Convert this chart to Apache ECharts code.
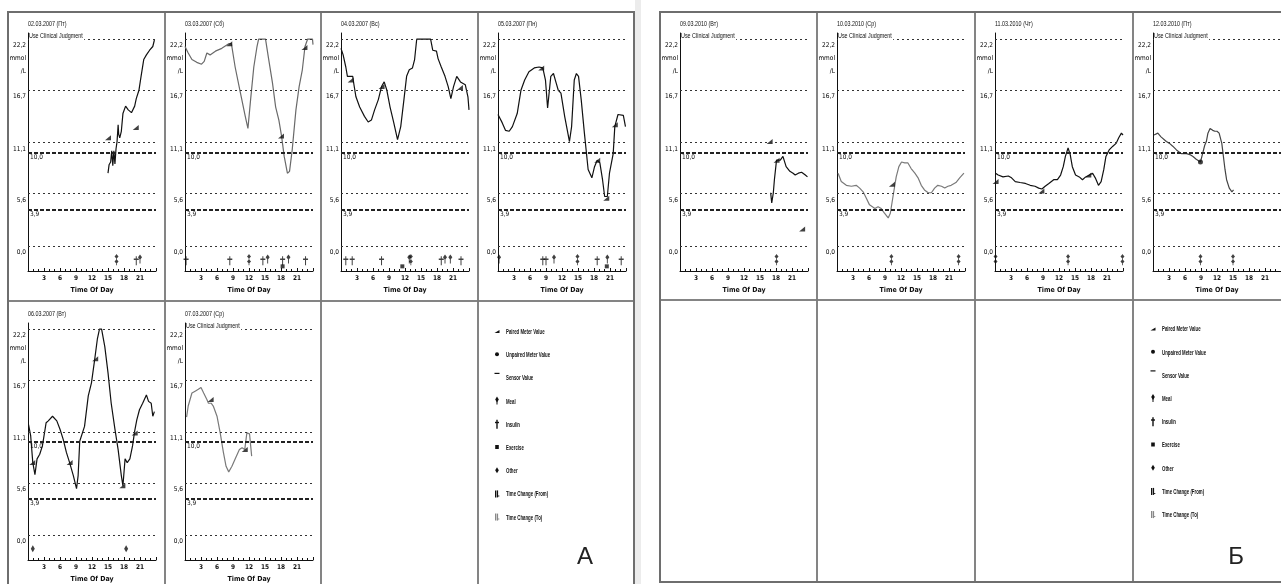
<!DOCTYPE html>
<html><head><meta charset="utf-8">
<script src="https://cdn.jsdelivr.net/npm/echarts@6/dist/echarts.min.js"></script>
<style>html,body{margin:0;padding:0;background:#fff}#c{width:1281px;height:584px}</style>
</head><body><div id="c"></div>
<script>
// ---------------- DATA ----------------
const yLabelValues = [0, 5.6, 11.1, 16.7, 22.2];
const thinRefLines = [22.2, 16.7, 11.1, 5.6, 0];
const thickRefLines = [10.0, 3.9];
const xAxisName = 'Time Of Day';
const clinicalNote = 'Use Clinical Judgment';
const legendNames = ['Paired Meter Value','Unpaired Meter Value','Sensor Value','Meal','Insulin','Exercise','Other','Time Change (From)','Time Change (To)'];
const panelLetters = ['А', 'Б'];

const dayTitles = ['02.03.2007 (Пт)','03.03.2007 (Сб)','04.03.2007 (Вс)','05.03.2007 (Пн)','06.03.2007 (Вт)','07.03.2007 (Ср)',
                   '09.03.2010 (Вт)','10.03.2010 (Ср)','11.03.2010 (Чт)','12.03.2010 (Пт)'];
const dayClinical = [true,false,false,false,false,true,true,true,false,true];

const sensor0203 = [[15.0,7.8],[15.2,8.7],[15.5,9.0],[15.7,10.2],[15.9,8.6],[16.1,10.2],[16.3,8.8],[16.5,10.4],[16.7,11.2],[16.9,13.0],[17.0,12.0],[17.2,11.6],[17.5,12.3],[17.8,14.2],[18.3,15.0],[18.8,14.6],[19.4,14.3],[20.0,15.0],[20.3,15.8],[20.8,16.7],[21.2,18.2],[21.7,20.0],[22.2,20.5],[22.8,21.0],[23.4,21.4],[23.7,22.1]];
const meter0203 = [[15.0,11.6],[20.2,12.7]];
const events0203 = [[16.6,'T'],[20.3,'I'],[21.0,'M']];

const sensor0303 = [[0.0,21.4],[0.6,20.7],[1.3,20.0],[2.2,19.7],[3.1,19.5],[3.6,19.8],[4.1,20.7],[4.7,20.5],[5.7,20.9],[6.9,21.2],[8.2,21.7],[8.7,21.7],[9.4,19.2],[10.4,16.4],[11.3,13.9],[11.8,12.6],[12.3,15.7],[12.9,19.2],[13.5,21.4],[13.8,22.2],[15.1,22.2],[15.7,20.0],[16.4,17.5],[17.0,14.9],[17.3,15.1],[17.6,13.5],[18.1,11.8],[18.6,9.6],[19.2,7.8],[19.6,8.0],[20.1,10.3],[20.8,14.6],[21.4,17.1],[22.0,18.9],[22.5,21.4],[23.0,22.2],[23.9,22.2],[24.0,21.6]];
const meter0303 = [[8.3,21.7],[18.0,11.8],[22.4,21.3]];
const events0303 = [[0.2,'I'],[8.4,'I'],[12.0,'T'],[14.6,'I'],[15.5,'M'],[18.3,'I'],[18.3,'E'],[19.4,'M'],[22.6,'I']];

const sensor0403 = [[0,21.2],[0.4,20.5],[0.9,19.2],[1.2,18.2],[1.5,18.4],[2.2,18.2],[2.4,17.4],[2.8,16.0],[3.5,14.9],[4.4,13.9],[5.1,13.3],[5.7,13.5],[6.3,14.6],[7.0,15.7],[7.6,17.1],[8.1,17.6],[8.6,16.7],[9.2,14.9],[9.9,13.2],[10.6,11.4],[11.2,12.8],[11.8,15.7],[12.3,18.2],[12.8,18.9],[13.4,19.1],[13.8,20.0],[14.2,22.2],[16.8,22.2],[17.2,21.0],[17.9,20.9],[18.2,20.1],[18.8,19.2],[19.5,18.2],[20.1,17.1],[20.6,15.8],[21.1,17.1],[21.7,18.2],[22.4,17.6],[22.7,17.5],[23.3,17.3],[23.8,16.0],[24,14.6]];
const meter0403 = [[1.8,17.8],[7.6,17.1],[22.3,17.0]];
const events0403 = [[0.9,'I'],[2.1,'I'],[7.6,'I'],[11.5,'E'],[12.8,'M'],[13.1,'T'],[18.8,'I'],[19.5,'M'],[20.5,'M'],[22.5,'I']];

const sensor0503 = [[0,14.1],[0.8,13.2],[1.4,12.4],[2.1,12.3],[2.7,12.8],[3.6,14.2],[4.3,16.7],[5.0,17.8],[5.8,18.7],[6.8,19.1],[7.7,19.2],[8.4,19.1],[8.9,17.8],[9.3,14.8],[9.9,18.2],[10.4,18.5],[10.9,17.5],[11.3,16.7],[11.8,16.4],[12.5,13.9],[13.4,11.2],[13.8,12.8],[14.3,17.8],[14.7,18.5],[15.1,18.2],[15.6,15.7],[16.2,12.1],[16.9,8.2],[17.6,7.3],[18.1,8.5],[18.6,9.2],[19.1,8.9],[19.6,7.1],[20.0,5.3],[20.5,5.3],[20.9,7.8],[21.6,9.9],[21.9,12.8],[22.5,14.1],[23.5,14.0],[23.9,12.8]];
const meter0503 = [[8.1,19.1],[18.6,9.2],[20.3,5.1],[21.9,13.0]];
const events0503 = [[0.2,'M'],[8.4,'I'],[9.0,'I'],[10.5,'M'],[14.9,'T'],[18.6,'I'],[20.5,'M'],[20.4,'E'],[23.1,'I']];

const sensor0603 = [[0.1,11.9],[0.5,10.7],[0.9,7.8],[1.3,6.5],[1.7,8.2],[2.2,8.7],[2.7,9.6],[3.4,12.1],[3.8,12.3],[4.6,12.8],[5.4,12.3],[6.0,11.4],[6.6,10.3],[7.2,8.9],[7.8,7.8],[8.5,6.4],[9.1,5.0],[9.4,6.4],[9.7,10.1],[10.0,10.3],[10.6,11.7],[11.3,15.0],[11.9,16.4],[12.5,18.9],[13.0,21.1],[13.4,22.2],[13.8,22.2],[14.4,20.3],[15.0,17.5],[15.6,14.2],[16.3,11.4],[16.9,9.2],[17.5,6.4],[17.8,5.3],[18.2,8.2],[18.6,7.8],[19.1,8.2],[19.6,9.6],[20.0,11.2],[20.4,12.4],[20.9,13.5],[21.5,14.2],[22.2,15.1],[22.6,14.4],[23.1,14.2],[23.4,12.8],[23.7,13.3]];
const meter0603 = [[0.8,7.8],[7.8,7.8],[12.6,19.0],[17.7,5.3],[20.0,11.0]];
const events0603 = [[0.9,'O'],[18.4,'O']];

const sensor0703 = [[0.3,12.7],[0.6,13.9],[1.3,15.3],[1.9,15.5],[2.5,15.7],[3.0,15.9],[3.5,15.3],[4.1,14.6],[4.4,14.2],[4.9,14.2],[5.3,13.9],[6.0,12.8],[6.6,11.0],[7.2,8.9],[7.7,7.4],[8.2,6.8],[8.8,7.4],[9.4,8.2],[10.2,9.2],[10.7,9.4],[11.2,9.2],[11.6,11.0],[12.1,10.9],[12.5,8.5]];
const meter0703 = [[4.8,14.6],[11.2,9.2]];
const events0703 = [];

const sensor0903 = [[17.0,5.7],[17.2,4.6],[17.5,5.7],[17.7,7.1],[18.1,9.2],[18.3,9.0],[18.8,9.2],[19.3,9.6],[19.6,9.8],[19.9,8.5],[20.6,8.0],[21.2,7.8],[21.6,7.6],[22.2,7.8],[22.8,7.9],[23.5,7.6],[23.9,7.4]];
const meter0903 = [[16.8,11.2],[18.1,9.2],[22.9,1.8]];
const events0903 = [[18.1,'T']];

const sensor1003 = [[0.2,7.8],[0.8,6.9],[1.75,6.5],[2.7,6.4],[3.6,6.5],[4.25,6.2],[4.9,5.8],[5.5,5.1],[6.1,4.4],[7.1,4.0],[7.7,4.2],[8.3,4.0],[8.9,3.5],[9.6,3.0],[10.0,3.5],[10.5,5.3],[11.1,7.4],[11.6,8.5],[12.1,9.0],[12.7,8.9],[13.3,8.9],[13.9,8.3],[14.6,7.8],[15.2,7.3],[15.8,6.5],[16.4,6.0],[17.1,5.7],[17.7,5.7],[18.3,6.2],[18.9,6.5],[19.6,6.4],[20.2,6.2],[20.8,6.4],[21.4,6.5],[22.3,6.8],[23.0,7.3],[23.8,7.8]];
const meter1003 = [[10.3,6.6]];
const events1003 = [[10.2,'T'],[22.8,'T']];

const sensor1103 = [[0.1,7.8],[0.6,7.6],[1.5,7.4],[2.5,7.5],[3.1,7.3],[3.8,6.9],[4.7,6.8],[5.7,6.7],[6.6,6.5],[7.5,6.4],[8.2,6.2],[8.8,6.1],[9.4,6.4],[10.1,6.7],[11.0,7.1],[11.7,7.1],[12.3,7.6],[12.8,8.5],[13.2,9.6],[13.7,10.5],[14.1,9.8],[14.5,8.5],[15.1,7.6],[15.8,7.4],[16.4,7.1],[17.0,7.4],[17.7,7.6],[18.3,7.8],[18.8,7.3],[19.4,6.5],[19.9,6.9],[20.4,8.2],[20.8,9.6],[21.4,10.3],[22.1,10.7],[22.7,11.0],[23.2,11.6],[23.7,12.1],[24,11.9]];
const meter1103 = [[0.1,6.9],[8.7,5.9],[17.5,7.6]];
const events1103 = [[0.1,'T'],[13.7,'T'],[23.9,'T']];

const sensor1203 = [[0.2,11.9],[0.9,12.1],[1.5,11.7],[2.5,11.2],[3.1,11.0],[3.7,10.7],[4.4,10.3],[5.3,9.9],[6.3,9.9],[6.9,9.8],[7.5,9.6],[8.1,9.3],[8.9,9.0],[9.3,9.9],[9.7,10.8],[10.0,11.2],[10.3,12.1],[10.7,12.6],[11.2,12.4],[11.6,12.3],[12.0,12.3],[12.4,12.1],[12.9,11.0],[13.2,9.6],[13.5,8.2],[13.8,7.1],[14.3,6.2],[14.8,5.8],[15.1,6.0]];
const meter1203 = [];
const unpaired1203 = [[8.9,9.0]];
const events1203 = [[8.9,'T'],[15.0,'T']];

const daySensor = [sensor0203,sensor0303,sensor0403,sensor0503,sensor0603,sensor0703,sensor0903,sensor1003,sensor1103,sensor1203];
const dayMeter = [meter0203,meter0303,meter0403,meter0503,meter0603,meter0703,meter0903,meter1003,meter1103,meter1203];
const dayUnpaired = [[],[],[],[],[],[],[],[],[],unpaired1203];
const dayEvents = [events0203,events0303,events0403,events0503,events0603,events0703,events0903,events1003,events1103,events1203];

// ---------------- LAYOUT / STYLE ----------------
const slots = [[8,12],[165,12],[321,12],[478,12],[8,302],[165,302],[660,12],[817,12],[975,12],[1133,12]];
const lineColors = ['#111','#6a6a6a','#111','#111','#111','#7a7a7a','#111','#7a7a7a','#111','#444'];
const FONT_N = "'Liberation Sans Narrow','DejaVu Sans Condensed','Liberation Sans',sans-serif";
const FONT = "'Liberation Sans',Arial,sans-serif";
const fmt = v => v.toFixed(1).replace('.', ',');

const P_PAIRED = 'M0,8 L10,0 L10,8 Z';
const P_MEAL = 'M5,0 L8.5,5 L5,10 L1.5,5 Z M4.2,8 L5.8,8 L5.8,16 L4.2,16 Z';
const P_INS = 'M4,0 L6,0 L6,4 L10,4 L10,6.5 L6,6.5 L6,16 L4,16 L4,6.5 L0,6.5 L0,4 L4,4 Z';
const P_OTHER = 'M5,0 L9,6 L5,12 L1,6 Z';
const P_EX = 'M0,0 L8,0 L8,9 L0,9 Z';
const P_TIME = 'M5,0 L8.5,4 L5,8 L1.5,4 Z M5,9 L8.5,13 L5,17 L1.5,13 Z M4.3,0 L5.7,0 L5.7,20 L4.3,20 Z';
const evSym = {M:P_MEAL, I:P_INS, O:P_OTHER, E:P_EX, T:P_TIME};
const evSize = {M:[4,9], I:[5,9], O:[4,7], E:[4,4], T:[4,11]};
const evY = {M:-1.4, I:-1.6, O:-1.5, E:-2.2, T:-1.5};

const grids=[], xAxes=[], yAxes=[], series=[], graphics=[];

dayTitles.forEach((title,i)=>{
  const [L,T] = slots[i];
  grids.push({left:L+20, top:T+21, width:128, height:238});
  xAxes.push({type:'value', gridIndex:i, min:0, max:24, interval:3,
    name:xAxisName, nameLocation:'middle', nameGap:16,
    nameTextStyle:{fontFamily:FONT_N, fontSize:7, fontWeight:'bold', color:'#111'},
    axisLine:{onZero:false, lineStyle:{color:'#111', width:1}},
    axisTick:{inside:true, length:3, lineStyle:{color:'#111'}},
    minorTick:{show:true, splitNumber:3, length:2, lineStyle:{color:'#111'}},
    splitLine:{show:false}, minorSplitLine:{show:false},
    axisLabel:{showMinLabel:false, showMaxLabel:false, fontFamily:FONT_N, fontSize:6.5, fontWeight:'bold', color:'#111', margin:4}});
  yAxes.push({type:'value', gridIndex:i, min:-2.7, max:22.85,
    axisLine:{show:true, onZero:false, lineStyle:{color:'#111', width:1}},
    axisTick:{show:false}, splitLine:{show:false},
    axisLabel:{customValues:yLabelValues, formatter:v => v>22 ? fmt(v)+'\nmmol\n/L' : fmt(v),
      verticalAlign:'top', align:'right', margin:2, lineHeight:13, fontFamily:FONT_N, fontSize:6.5, color:'#000'}});

  const ml = thinRefLines.map(v=>({yAxis:v, lineStyle:{type:[2,3], width:1.1, color:'#333'}, label:{show:false}}))
    .concat(thickRefLines.map(v=>({yAxis:v, lineStyle:{type:[4,2], width:2, color:'#222'},
      label:{show:true, position:'insideStartBottom', formatter:fmt(v), fontFamily:FONT_N, fontSize:6.5, color:'#111', distance:[2,1]}})));

  series.push({type:'line', name:'Sensor Value', xAxisIndex:i, yAxisIndex:i, data:daySensor[i],
    showSymbol:false, symbol:'none', silent:true, z:3,
    lineStyle:{color:lineColors[i], width:1.2},
    markLine:{silent:true, symbol:'none', animation:false, data:ml}});
  if (dayMeter[i].length) series.push({type:'scatter', name:'Paired Meter Value', xAxisIndex:i, yAxisIndex:i,
    data:dayMeter[i], symbol:'path://'+P_PAIRED, symbolSize:[6,5], itemStyle:{color:'#111'}, silent:true, z:4});
  if (dayUnpaired[i].length) series.push({type:'scatter', name:'Unpaired Meter Value', xAxisIndex:i, yAxisIndex:i,
    data:dayUnpaired[i], symbol:'circle', symbolSize:5, itemStyle:{color:'#111'}, silent:true, z:4});
  if (dayEvents[i].length) series.push({type:'scatter', name:'Events', xAxisIndex:i, yAxisIndex:i,
    data:dayEvents[i].map(([h,t])=>({value:[h, evY[t]], symbol:'path://'+evSym[t], symbolSize:evSize[t]})),
    itemStyle:{color:'#111'}, silent:true, z:4});

  graphics.push({type:'text', x:L+20, y:T+12, scaleX:0.72, z:100,
    style:{text:title, fontFamily:FONT, fontSize:7.5, fill:'#111', verticalAlign:'middle'}});
  if (dayClinical[i]) graphics.push({type:'text', x:L+21, y:T+24, scaleX:0.72, z:100,
    style:{text:clinicalNote, fontFamily:FONT, fontSize:7.5, fill:'#111', verticalAlign:'middle', backgroundColor:'#fff', padding:[0,2,0,0]}});
});

// frames
graphics.push({type:'rect', z:1, shape:{x:635, y:0, width:6, height:584}, style:{fill:'#ececec'}});
const colsA=[8,165,321,478,634], colsB=[660,817,975,1133,1290];
[[colsA,[12,301,592]],[colsB,[12,300,582]]].forEach(([cols,rows])=>{
  for(let r=0;r<2;r++) for(let c=0;c<4;c++){
    graphics.push({type:'rect', z:50, shape:{x:cols[c], y:rows[r], width:cols[c+1]-cols[c], height:rows[r+1]-rows[r]},
      style:{fill:'none', stroke:'#7c7c7c', lineWidth:1.5}});
  }
  graphics.push({type:'rect', z:51, shape:{x:cols[0], y:rows[0], width:cols[4]-cols[0], height:rows[2]-rows[0]},
    style:{fill:'none', stroke:'#6e6e6e', lineWidth:2}});
});

// legend icons built from simple shapes
function icon(k, sx, y, col){
  const c = col || '#111';
  const out = [];
  const R = (x,yy,w,h)=>out.push({type:'rect', z:60, shape:{x:x, y:yy, width:w, height:h}, style:{fill:c}});
  const P = pts=>out.push({type:'polygon', z:60, shape:{points:pts}, style:{fill:c}});
  switch(k){
    case 0: P([[sx-2.5,y+1],[sx+2.5,y-2],[sx+2.5,y+1]]); break;
    case 1: out.push({type:'circle', z:60, shape:{cx:sx, cy:y-1, r:2}, style:{fill:c}}); break;
    case 2: out.push({type:'line', z:60, shape:{x1:sx-2.5, y1:y-5, x2:sx+2.5, y2:y-5}, style:{stroke:c, lineWidth:1.2}}); break;
    case 3: P([[sx,y-5],[sx+1.8,y-2],[sx,y+1],[sx-1.8,y-2]]); R(sx-0.5,y-1,1,4); break;
    case 4: R(sx-0.7,y-5,1.4,9); R(sx-2,y-3,4,1.4); break;
    case 5: R(sx-1.8,y-3,3.6,4); break;
    case 6: P([[sx,y-4],[sx+1.8,y-1],[sx,y+2],[sx-1.8,y-1]]); break;
    case 7: case 8: R(sx-2,y-4,1.3,7); R(sx-0.2,y-4,1.3,7); R(sx+1.1,y+1,1.2,1); break;
  }
  return out;
}
[[497,506,332],[1153,1162,329.5]].forEach(([sx,tx,y0])=>{
  legendNames.forEach((nm,k)=>{
    const y = y0 + k*23.2;
    icon(k, sx, y, k===8 ? '#888' : '#111').forEach(g=>graphics.push(g));
    graphics.push({type:'text', x:tx, y:y, scaleX:0.62, z:60,
      style:{text:nm, fontFamily:FONT, fontSize:7, fontWeight:'bold', fill:'#111', verticalAlign:'middle'}});
  });
});
graphics.push({type:'text', x:585, y:557, z:60, style:{text:panelLetters[0], fontFamily:FONT, fontSize:24, fill:'#222', align:'center', verticalAlign:'middle'}});
graphics.push({type:'text', x:1236, y:557, z:60, style:{text:panelLetters[1], fontFamily:FONT, fontSize:24, fill:'#222', align:'center', verticalAlign:'middle'}});

const chart = echarts.init(document.getElementById('c'), null, {renderer:'canvas', width:1281, height:584});
chart.setOption({backgroundColor:'#fff', animation:false, grid:grids, xAxis:xAxes, yAxis:yAxes, series:series, graphic:graphics});
</script></body></html>
